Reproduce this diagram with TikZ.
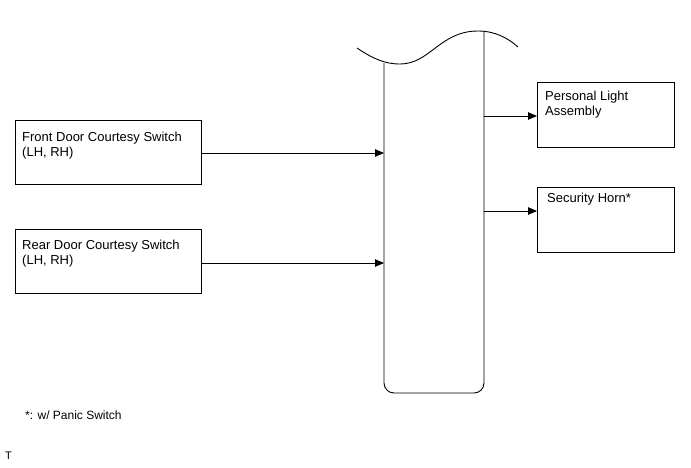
\documentclass[tikz,border=0pt]{standalone}
\usepackage{fontspec}
\setmainfont{Liberation Sans}
\usepackage{tikz}
\usetikzlibrary{arrows.meta,positioning,calc}
\tikzset{
    every picture/.style={line join=miter},
    unitbox/.style={draw=black,line width=0.9pt,anchor=north west,inner sep=0pt,outer sep=0pt},
    boxtext/.style={anchor=north west,inner sep=0pt,align=left,
      font=\fontsize{13}{15}\selectfont},
    busline/.style={draw=black,line width=0.9pt},
    sigline/.style={-{Triangle[length=9pt,width=7.5pt]},draw=black,line width=0.9pt}
}

\begin{document}
\begin{tikzpicture}[x=1pt,y=-1pt]
  \useasboundingbox (0,0) rectangle (691,467);
  % input switches
  \node[unitbox,minimum width=186pt,minimum height=64pt] (front) at (15,120) {};
  \node[boxtext] (fronttxt) at ([xshift=7pt,yshift=-12pt]front.north west)
    {Front Door Courtesy Switch\\(LH, RH)};
  \node[unitbox,minimum width=186pt,minimum height=64pt] (rear) at (15,229) {};
  \node[boxtext] (reartxt) at ([xshift=7pt,yshift=-11pt]rear.north west)
    {Rear Door Courtesy Switch\\(LH, RH)};
  % outputs
  \node[unitbox,minimum width=137pt,minimum height=65pt] (perslight) at (537,82) {};
  \node[boxtext] (perstxt) at ([xshift=8pt,yshift=-9pt]perslight.north west)
    {Personal Light\\Assembly};
  \node[unitbox,minimum width=137pt,minimum height=65pt] (horn) at (537,187) {};
  \node[boxtext] (horntxt) at ([xshift=10pt,yshift=-6pt]horn.north west)
    {Security Horn*};
  % bus with broken top
  \coordinate (busL) at (384,63);
  \coordinate (busR) at (484,31);
  \draw[busline] (357,48) .. controls (372,58) and (384,64) .. (400,64)
    .. controls (430,64) and (440,31) .. (478,31)
    .. controls (495,31) and (508,38) .. (518,47);
  \draw[busline,rounded corners=10pt] (busL) -- (384,393) -- (484,393) -- (busR);
  % connectors
  \draw[sigline] ([yshift=-1pt]front.east) -- ([yshift=-1pt]front.east -| busL);
  \draw[sigline] ([yshift=-2pt]rear.east) -- ([yshift=-2pt]rear.east -| busL);
  \draw[sigline] ([yshift=-1.5pt]perslight.west -| busR) -- ([yshift=-1.5pt]perslight.west);
  \draw[sigline] ([yshift=8.5pt]horn.west -| busR) -- ([yshift=8.5pt]horn.west);
  % notes
  \node[anchor=north west,inner sep=0pt,font=\fontsize{12}{14}\selectfont] (note) at (25,411)
    {*: w/ Panic Switch};
  \node[anchor=north west,inner sep=0pt,font=\fontsize{11}{13}\selectfont] (tmark) at (5,452) {T};
\end{tikzpicture}
\end{document}
